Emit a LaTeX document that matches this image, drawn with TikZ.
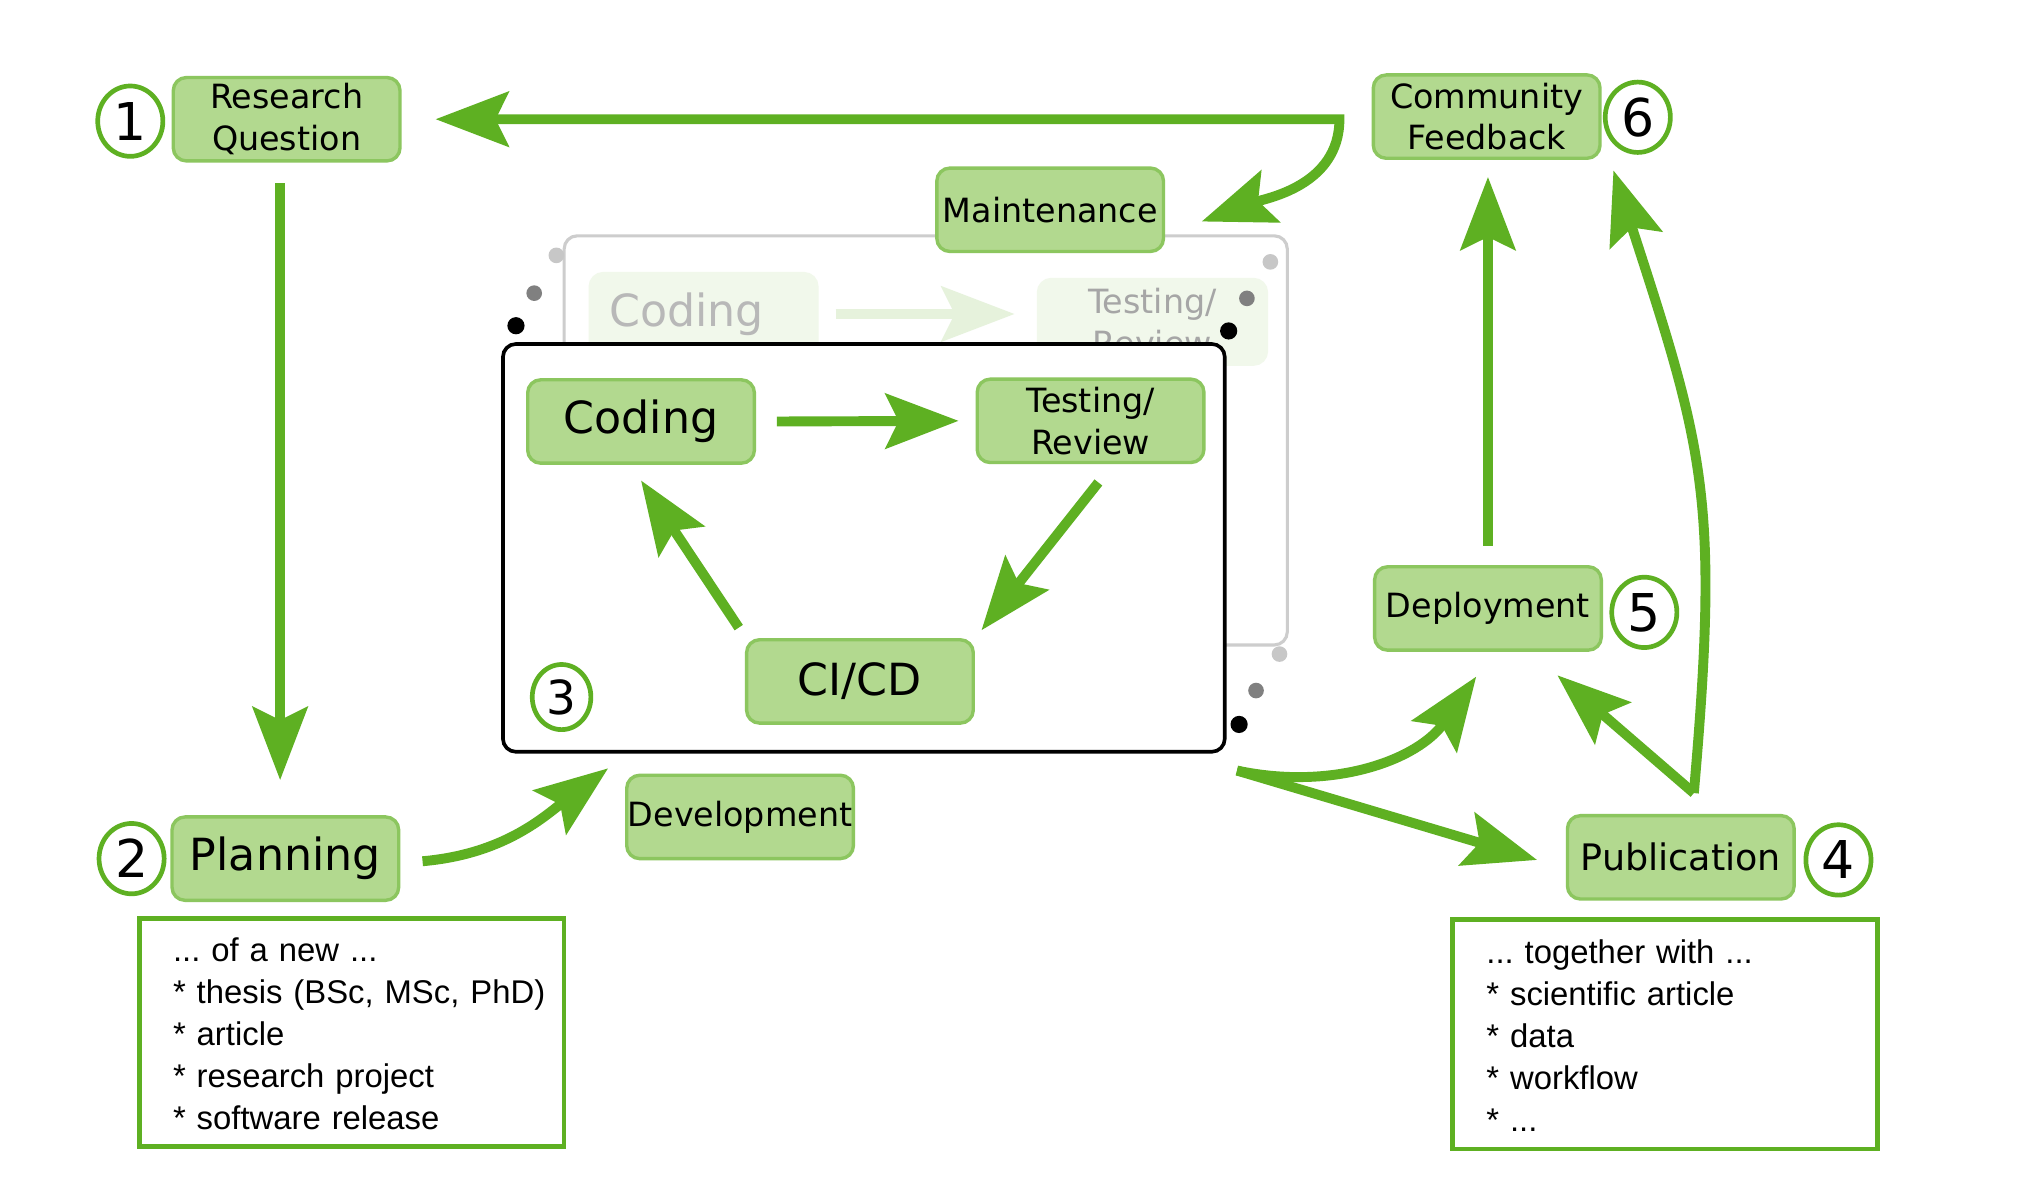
\documentclass[tikz,border=0pt]{standalone}
\usepackage{fontspec}
\setmainfont{DejaVu Sans}
\newfontfamily\listfont{Liberation Sans}
\usetikzlibrary{arrows.meta,shapes.geometric,calc}
\definecolor{arrgreen}{RGB}{94,176,34}
\definecolor{boxfill}{RGB}{178,217,143}
\definecolor{boxline}{RGB}{140,198,95}
\definecolor{ghostfill}{RGB}{241,248,235}
\definecolor{ghostarrow}{RGB}{230,242,220}
\definecolor{ghostline}{RGB}{205,205,205}
\tikzset{
 stage/.style={draw=boxline, fill=boxfill, line width=1.3pt, rounded corners=5pt,
   minimum width=87pt, minimum height=32pt, inner sep=0pt, align=center,
   font=\fontsize{12.8}{16}\selectfont},
 bigstage/.style={stage, font=\fontsize{17}{20}\selectfont},
 ghoststage/.style={stage, draw=ghostfill, fill=ghostfill, text=black!28},
 num/.style={draw=arrgreen, line width=1.8pt, ellipse, inner sep=0pt, fill=white,
   minimum width=25pt, minimum height=27pt, font=\fontsize{20}{20}\selectfont},
 arr/.style={draw=arrgreen, line width=3.8pt, -{Stealth[length=28pt,width=21pt,inset=5pt]}},
 arrboth/.style={draw=arrgreen, line width=3.8pt, {Stealth[length=28pt,width=21pt,inset=5pt]}-{Stealth[length=28pt,width=21pt,inset=5pt]}},
 listbox/.style={draw=arrgreen, line width=1.8pt, fill=white, anchor=north west,
   minimum width=163pt, minimum height=87.5pt, inner xsep=13pt, inner ysep=0pt,
   text width=137pt, align=left, font=\listfont\fontsize{12.6}{16.2}\selectfont\frenchspacing},
}
\begin{document}
\begin{tikzpicture}[x=0.5pt,y=-0.5pt]
\fill[white] (0,0) rectangle (1568,924);
\useasboundingbox (0,0) rectangle (1568,924);

% ghost (background) iteration box
\node[draw=ghostline, line width=1.2pt, rounded corners=5pt, minimum width=277.5pt,
  minimum height=157pt, inner sep=0pt] (ghost) at (710.5,338) {};
\node[ghoststage, minimum height=31pt, font=\fontsize{17}{20}\selectfont] (gcoding) at (540,241) {Coding\hspace*{13pt}};
\node[ghoststage, minimum width=87.5pt, minimum height=32.5pt, text=black!35] (gtesting) at (884.5,247) {Testing/\\Review};
\draw[arr, draw=ghostarrow] ([xshift=6.5pt]gcoding.east) -- ([xshift=-8.5pt]gcoding.east -| gtesting.west);

% front iteration box
\node[draw=black, line width=1.4pt, rounded corners=5pt, fill=white, minimum width=277pt,
  minimum height=156.5pt, inner sep=0pt] (front) at (663,420.5) {};

% dots
\fill[black!22] (427,196) circle (3pt);
\fill[black!22] (975,201) circle (3pt);
\fill[black!22] (982,502) circle (3pt);
\fill[black!50] (410,225) circle (3pt);
\fill[black!50] (957,229) circle (3pt);
\fill[black!50] (964,530) circle (3pt);
\fill[black] (396,250) circle (3.3pt);
\fill[black] (943,254) circle (3.3pt);
\fill[black] (951,556) circle (3.3pt);

% stages
\node[stage] (rq) at (220,91.5) {Research\\Question};
\node[stage] (cf) at (1141,89.5) {Community\\Feedback};
\node[stage] (maint) at (806,161) {Maintenance};
\node[bigstage] (coding) at (492,323.5) {Coding};
\node[stage] (testing) at (837,323) {Testing/\\Review};
\node[bigstage] (cicd) at (660,523) {CI/CD};
\node[bigstage] (planning) at (219,659) {Planning};
\node[stage] (dev) at (568,627) {Development};
\node[stage] (deploy) at (1142,467) {Deployment};
\node[stage, font=\fontsize{14}{16}\selectfont] (pub) at (1290,658) {Publication};

% numbers
\node[num] (n1) at (100,93) {1};
\node[num] (n2) at (101,659) {2};
\node[num, minimum width=22.5pt, minimum height=25pt, font=\fontsize{18}{18}\selectfont] (n3) at (431,535) {3};
\node[num] (n4) at (1411,660) {4};
\node[num] (n5) at (1262,470) {5};
\node[num] (n6) at (1257,90) {6};

% list boxes
\node[listbox] (planlist) at (105,703) {\begin{tabular}{@{}l@{}}
\rule{0pt}{15pt}... of a new ...\\
{}* thesis (BSc, MSc, PhD)\\
{}* article\\
{}* research project\\
{}* software release
\end{tabular}};
\node[listbox, minimum height=88pt] (publist) at (1113,704) {\begin{tabular}{@{}l@{}}
\rule{0pt}{15pt}... together with ...\\
{}* scientific article\\
{}* data\\
{}* workflow\\
{}* ...
\end{tabular}};

% connectors
\coordinate (j1) at (1028,91.5);
\draw[arrboth] ([shift={(14pt,-4.5pt)}]maint.east) to[out=20,in=-90] (j1) -- ([xshift=13pt]rq.east);
\draw[arr] ([shift={(-2.5pt,-8pt)}]rq.south) -- ([shift={(-2pt,13.5pt)}]planning.north);
\draw[arr] ([shift={(8.5pt,-1pt)}]planning.east) to[out=5,in=217] ([shift={(-6.5pt,2pt)}]dev.north west);

\draw[arr] ([xshift=8pt]coding.east) -- ([xshift=-6.5pt]testing.west);
\draw[arr] ([shift={(3pt,-7pt)}]testing.south) -- ([shift={(2.5pt,3pt)}]cicd.north east);
\draw[arr] ([shift={(-46.5pt,4pt)}]cicd.north) -- ([yshift=-6pt]coding.south);

\coordinate (fbout) at ([shift={(4pt,-6.5pt)}]front.south east);
\draw[arr] (fbout) to[out=-12,in=235] ([shift={(-4.5pt,-9.5pt)}]deploy.south);
\draw[arr] (fbout) -- ([shift={(-11pt,-1pt)}]pub.west);

\draw[arr] ([yshift=7.5pt]deploy.north) -- ([yshift=-6.5pt]deploy.north |- cf.south);

\coordinate (pubout) at ([shift={(5pt,8pt)}]pub.north);
\draw[arr] (pubout) -- ([shift={(-17.5pt,-9pt)}]deploy.south east);
\draw[arr] (pubout) to[out=85,in=-72,looseness=1.2] ([shift={(4.5pt,-4pt)}]cf.south east);
\end{tikzpicture}
\end{document}
